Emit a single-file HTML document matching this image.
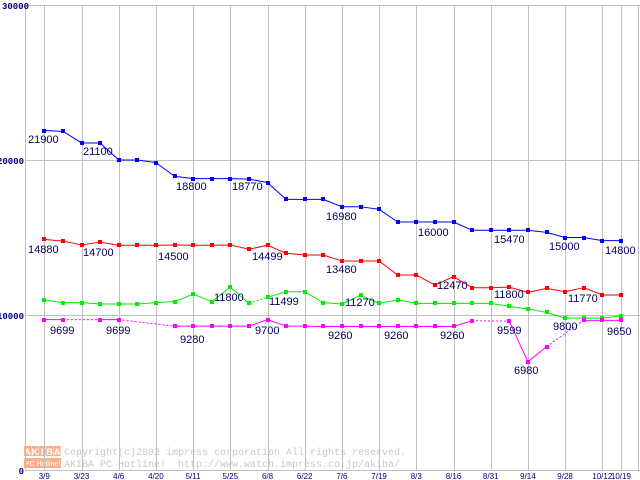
<!DOCTYPE html>
<html><head><meta charset="utf-8"><style>
html,body{margin:0;padding:0;background:#fff;}
svg{display:block;}
.pre{white-space:pre;}
</style></head><body>
<svg id="chart" width="640" height="480" xmlns="http://www.w3.org/2000/svg"></svg>
<script>
const xLabels=["3/9","3/23","4/6","4/20","5/11","5/25","6/8","6/22","7/6","7/19","8/3","8/16","8/31","9/14","9/28","10/12","10/19"];
const yTicks=[0,10000,20000,30000];
const blue=[21900,21850,21100,21100,20000,20000,19830,18950,18800,18800,18800,18770,18540,17460,17460,17460,16980,16980,16820,16000,16000,16000,16000,15470,15470,15470,15470,15330,15000,15000,14800,14800];
const red=[14880,14770,14520,14700,14500,14500,14500,14520,14500,14500,14520,14240,14499,13980,13870,13870,13480,13480,13480,12580,12580,11935,12470,11760,11760,11800,11460,11720,11500,11770,11290,11290];
const green=[10970,10800,10800,10710,10710,10710,10800,10860,11350,10860,11800,10750,11140,11499,11499,10800,10710,11270,10750,10970,10750,10750,10750,10750,10750,10560,10390,10170,9800,9800,9800,9940];
const magenta=[9699,9699,null,9699,9699,null,null,9280,9280,9280,9280,9280,9700,9280,9280,9260,9260,9260,9260,9260,9260,9260,9260,9630,null,9599,6980,7960,null,9650,9650,9650];
const greenDotted=[11];
const labelText=["21900","21100","18800","18770","14880","14700","14500","14499","11800","11499","9699","9699","9280","9700","16980","16000","15470","15000","14800","13480","12470","11800","11770","11270","9260","9260","9260","9599","9800","9650","6980"];
const labelX=[28,83,176,232,28,83,158,252,214,269,50,106,180,255,326,418,494,549,605,326,437,494,568,345,328,384,440,497,553,607,514];
const labelY=[143,155,190,190,253,256,260,260,301,305,334,334,343,334,220,236,243,250,254,273,289,298,302,306,339,339,339,334,330,335,374];

const NS="http://www.w3.org/2000/svg";
const svg=document.getElementById('chart');
const X0=44.3, STEP=18.6, Y0=470, YTOP=5, YMAX=30000;
const X=i=>X0+i*STEP;
const Y=v=>Y0-(v/YMAX)*(Y0-YTOP);
function mk(tag,attrs,parent){const e=document.createElementNS(NS,tag);for(const k in attrs)e.setAttribute(k,attrs[k]);(parent||svg).appendChild(e);return e;}

// watermark
const wm=mk('g',{});


const logoLetters=["A","K","I","B","A"];
for(let k=0;k<5;k++){
  mk('rect',{x:24+k*7.4,y:446,width:7,height:10,fill:'#f7b08a'},wm);
  const t=mk('text',{x:27.5+k*7.4,y:455,'font-family':'Liberation Sans, sans-serif','font-size':'9','font-weight':'bold',fill:'#fff','text-anchor':'middle'},wm);t.textContent=logoLetters[k];
}
mk('rect',{x:24,y:458,width:37,height:10,fill:'#f7b08a'},wm);
const lt=mk('text',{x:42.5,y:466,'font-family':'Liberation Sans, sans-serif','font-size':'7',fill:'#fff','text-anchor':'middle'},wm);lt.textContent="PC Hotline!";
const c1=mk('text',{x:64,y:455,'font-family':'Liberation Mono, monospace','font-size':'10',fill:'#c8c8c8','class':'pre'},wm);c1.textContent="Copyright(c)2002 impress corporation All rights reserved.";
const c2=mk('text',{x:64,y:467,'font-family':'Liberation Mono, monospace','font-size':'10',fill:'#c8c8c8','class':'pre'},wm);c2.textContent="AKIBA PC Hotline!  http://www.watch.impress.co.jp/akiba/";

// grid
const grid=mk('g',{stroke:'#c0c0c0','stroke-width':1,'shape-rendering':'crispEdges'});


yTicks.forEach(v=>{mk('line',{x1:25,x2:640,y1:Math.round(Y(v))+0.5,y2:Math.round(Y(v))+0.5},grid);});
mk('line',{x1:25.5,x2:25.5,y1:4,y2:470},grid);
const xIdx=xLabels.map((l,k)=>k<xLabels.length-1?k*2:31);
xIdx.forEach(i=>{mk('line',{x1:Math.round(X(i))+0.5,x2:Math.round(X(i))+0.5,y1:5,y2:470},grid);});
mk('line',{x1:638.5,x2:638.5,y1:5,y2:470},grid);

// axis labels
yTicks.forEach((v,k)=>{
  const t=mk('text',{x:v===30000?2:24,y:Y(v)+4,'text-anchor':v===30000?'start':'end','font-family':'Liberation Mono, monospace','font-size':'9','font-weight':'bold',fill:'#000080'});
  
  
  t.textContent=String(v);
});
xLabels.forEach((l,k)=>{
  const t=mk('text',{x:X(xIdx[k]),y:479,'text-anchor':'middle','font-family':'Liberation Sans, sans-serif','font-size':'8',fill:'#000080'});
  
  
  t.textContent=l;
});

function drawSeries(data,color,name,dottedIdx){
  const g=mk('g',{});
  
  
  let prev=-1;
  for(let i=0;i<data.length;i++){
    if(data[i]==null)continue;
    if(prev>=0){
      const dotted=(i-prev>1)||(dottedIdx&&dottedIdx.includes(prev));
      const ln=mk('line',{x1:X(prev),y1:Y(data[prev]),x2:X(i),y2:Y(data[i]),stroke:color,'stroke-width':1});
      if(dotted)ln.setAttribute('stroke-dasharray','2,2');
      g.appendChild(ln);
    }
    prev=i;
  }
  data.forEach((v,i)=>{
    if(v==null)return;
    const r=mk('rect',{x:Math.round(X(i))-2,y:Math.round(Y(v))-2,width:4,height:4,fill:color},g);
    
    
  });
}
drawSeries(blue,'#0000ff','series-blue');
drawSeries(red,'#ff0000','series-red');
drawSeries(green,'#00ee00','series-green',greenDotted);
drawSeries(magenta,'#ff00ff','series-magenta');

labelText.forEach((s,k)=>{
  const t=mk('text',{x:labelX[k],y:labelY[k],'font-family':'Liberation Sans, sans-serif','font-size':'11',fill:'#000060'});
  
  
  t.textContent=s;
});
</script>
</body></html>
